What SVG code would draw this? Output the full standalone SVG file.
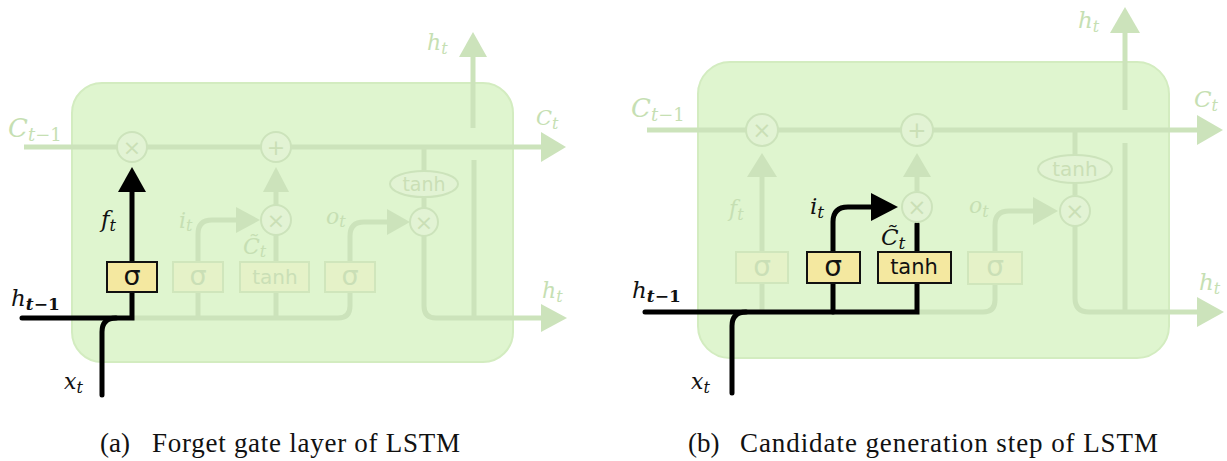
<svg xmlns="http://www.w3.org/2000/svg" width="1227" height="461" viewBox="0 0 1227 461">
<style>
.bg{fill:#dff5cf;stroke:#d3ecc0;stroke-width:2}
.fl{fill:none;stroke:#cce3bb;stroke-width:5}
.fa{fill:#cce3bb}
.bl{fill:none;stroke:#000;stroke-width:5;stroke-linecap:round}
.ba{fill:#000}
.fc{fill:#e2f3d4;stroke:#cce3bb;stroke-width:2}
.fb{fill:#e5f2c8;stroke:#d0e6bc;stroke-width:2}
.yb{fill:#f4e8a0;stroke:#111;stroke-width:2}
.op{font-family:"DejaVu Sans",sans-serif;text-anchor:middle}
.opf{fill:#cadfb6}
.opk{fill:#111}
.m{font-family:"DejaVu Serif",serif;font-style:italic}
.mf{fill:#c6dfb3}
.mk{fill:#111}
.cap{font-family:"Liberation Serif",serif;font-size:27px;fill:#111}
</style>

<!-- ============ Panel (a) ============ -->
<g id="a-cell"><rect class="bg" x="72" y="83" width="441" height="279" rx="30"/></g>
<g id="a-connectors">
  <path class="fl" d="M24,147 L541,147"/>
  <polygon class="fa" points="541,132 566,147 541,162"/>
  <path class="fl" d="M132,318 L338,318 Q350,318 350,306 L350,292"/>
  <path class="fl" d="M198,318 L198,292"/>
  <path class="fl" d="M276,318 L276,292"/>
  <path class="fl" d="M198,262 L198,234 Q198,220 212,220 L237,220"/>
  <polygon class="fa" points="236,207 260,220 236,233"/>
  <path class="fl" d="M276,262 L276,235"/>
  <path class="fl" d="M276,205 L276,190"/>
  <polygon class="fa" points="263,192 276,167 289,192"/>
  <path class="fl" d="M350,262 L350,236 Q350,222 364,222 L388,222"/>
  <polygon class="fa" points="387,209 410,222 387,235"/>
  <path class="fl" d="M424,147 L424,171"/>
  <path class="fl" d="M424,197 L424,208"/>
  <path class="fl" d="M424,236 L424,306 Q424,318 436,318 L542,318"/>
  <polygon class="fa" points="541,304 567,318 541,332"/>
  <path class="fl" d="M474,160 L474,318"/>
  <path class="fl" d="M473,128 L473,55"/>
  <polygon class="fa" points="459,57 473,32 487,57"/>
  <path class="bl" d="M132,262 L132,190"/>
  <polygon class="ba" points="118,192 132,167 146,192"/>
  <path class="bl" d="M132,292 L132,318 L22,318" stroke-linejoin="miter" stroke-linecap="butt"/>
  <path class="bl" d="M102,395 L102,332 Q102,318 116,318"/>
</g>
<g id="a-mul-f"><circle class="fc" cx="132" cy="147" r="15"/><text class="op opf" x="132" y="155" font-size="22">×</text></g>
<g id="a-add"><circle class="fc" cx="276" cy="147" r="15"/><text class="op opf" x="276" y="155" font-size="22">+</text></g>
<g id="a-mul-i"><circle class="fc" cx="276" cy="220" r="15"/><text class="op opf" x="276" y="228" font-size="22">×</text></g>
<g id="a-mul-o"><circle class="fc" cx="424" cy="222" r="14"/><text class="op opf" x="424" y="230" font-size="22">×</text></g>
<g id="a-tanh-out"><ellipse class="fc" cx="424" cy="184" rx="34" ry="13"/><text class="op opf" x="424" y="191" font-size="19">tanh</text></g>
<g id="a-sigma-f"><rect class="yb" x="107" y="262" width="50" height="30"/><text class="op opk" x="132" y="285" font-size="27">σ</text></g>
<g id="a-sigma-i"><rect class="fb" x="173" y="262" width="50" height="30"/><text class="op opf" x="198" y="285" font-size="27">σ</text></g>
<g id="a-tanh-c"><rect class="fb" x="240" y="262" width="69" height="30"/><text class="op opf" x="275" y="284" font-size="20">tanh</text></g>
<g id="a-sigma-o"><rect class="fb" x="325" y="262" width="50" height="30"/><text class="op opf" x="350" y="285" font-size="27">σ</text></g>
<g id="a-labels">
  <text class="m mf" x="8" y="137" font-size="26">C<tspan font-size="18" dy="4">t</tspan><tspan font-size="18" font-style="normal">−1</tspan></text>
  <text class="m mk" x="11" y="306" font-size="23">h<tspan font-size="17" dy="4" font-weight="bold">t</tspan><tspan font-size="17" font-style="normal" font-weight="bold">−1</tspan></text>
  <text class="m mk" x="101" y="227" font-size="23">f<tspan font-size="16" dy="4">t</tspan></text>
  <text class="m mk" x="64" y="389" font-size="22">x<tspan font-size="16" dy="4">t</tspan></text>
  <text class="m mf" x="179" y="228" font-size="22">i<tspan font-size="16" dy="3">t</tspan></text>
  <text class="m mf" x="243" y="254" font-size="22">C̃<tspan font-size="16" dy="3">t</tspan></text>
  <text class="m mf" x="326" y="224" font-size="22">o<tspan font-size="16" dy="3">t</tspan></text>
  <text class="m mf" x="427" y="50" font-size="22">h<tspan font-size="16" dy="4">t</tspan></text>
  <text class="m mf" x="536" y="125" font-size="21">C<tspan font-size="16" dy="4">t</tspan></text>
  <text class="m mf" x="542" y="298" font-size="22">h<tspan font-size="16" dy="4">t</tspan></text>
</g>
<g id="a-caption"><text class="cap" x="100" y="452">(a)</text><text class="cap" x="152" y="452" textLength="308">Forget gate layer of LSTM</text></g>

<!-- ============ Panel (b) ============ -->
<g id="b-cell"><rect class="bg" x="698" y="62" width="471" height="296" rx="32"/></g>
<g id="b-connectors">
  <path class="fl" d="M647,130 L1198,130"/>
  <polygon class="fa" points="1197,115 1223,130 1197,145"/>
  <path class="fl" d="M762,312 L762,283"/>
  <path class="fl" d="M762,252 L762,176"/>
  <polygon class="fa" points="747,177 762,153 777,177"/>
  <path class="fl" d="M917,191 L917,175"/>
  <polygon class="fa" points="903,177 917,153 931,177"/>
  <path class="fl" d="M917,312 L983,312 Q995,312 995,300 L995,284"/>
  <path class="fl" d="M995,252 L995,225 Q995,211 1009,211 L1034,211"/>
  <polygon class="fa" points="1033,197 1058,211 1033,225"/>
  <path class="fl" d="M1075,130 L1075,155"/>
  <path class="fl" d="M1075,183 L1075,195"/>
  <path class="fl" d="M1075,226 L1075,298 Q1075,312 1089,312 L1198,312"/>
  <polygon class="fa" points="1197,297 1224,312 1197,327"/>
  <path class="fl" d="M1125,143 L1125,312"/>
  <path class="fl" d="M1125,110 L1125,31"/>
  <polygon class="fa" points="1110,33 1125,7 1140,33"/>
  <path class="bl" d="M645,312 L917,312 L917,283" stroke-linejoin="miter" stroke-linecap="butt"/>
  <path class="bl" d="M833,312 L833,283"/>
  <path class="bl" d="M917,252 L917,224"/>
  <path class="bl" d="M833,252 L833,222 Q833,207 848,207 L873,207"/>
  <polygon class="ba" points="871,193 898,207 871,221"/>
  <path class="bl" d="M732,393 L732,326 Q732,312 746,312"/>
</g>
<g id="b-mul-f"><circle class="fc" cx="762" cy="130" r="16"/><text class="op opf" x="762" y="138" font-size="23">×</text></g>
<g id="b-add"><circle class="fc" cx="917" cy="130" r="16"/><text class="op opf" x="917" y="138" font-size="23">+</text></g>
<g id="b-mul-i"><circle class="fc" cx="917" cy="207" r="15"/><text class="op opf" x="917" y="215" font-size="23">×</text></g>
<g id="b-mul-o"><circle class="fc" cx="1075" cy="211" r="15"/><text class="op opf" x="1075" y="219" font-size="23">×</text></g>
<g id="b-tanh-out"><ellipse class="fc" cx="1075" cy="169" rx="37" ry="14"/><text class="op opf" x="1075" y="176" font-size="20">tanh</text></g>
<g id="b-sigma-f"><rect class="fb" x="736" y="252" width="52" height="31"/><text class="op opf" x="762" y="276" font-size="28">σ</text></g>
<g id="b-sigma-i"><rect class="yb" x="807" y="252" width="53" height="31"/><text class="op opk" x="833" y="276" font-size="28">σ</text></g>
<g id="b-tanh-c"><rect class="yb" x="878" y="252" width="73" height="31"/><text class="op opk" x="914" y="274" font-size="21">tanh</text></g>
<g id="b-sigma-o"><rect class="fb" x="968" y="252" width="54" height="32"/><text class="op opf" x="995" y="276" font-size="28">σ</text></g>
<g id="b-labels">
  <text class="m mf" x="631" y="117" font-size="26">C<tspan font-size="18" dy="4">t</tspan><tspan font-size="18" font-style="normal">−1</tspan></text>
  <text class="m mk" x="632" y="298" font-size="23">h<tspan font-size="17" dy="4" font-weight="bold">t</tspan><tspan font-size="17" font-style="normal" font-weight="bold">−1</tspan></text>
  <text class="m mf" x="729" y="216" font-size="22">f<tspan font-size="16" dy="4">t</tspan></text>
  <text class="m mk" x="810" y="214" font-size="23">i<tspan font-size="17" dy="4">t</tspan></text>
  <text class="m mk" x="881" y="245" font-size="23">C̃<tspan font-size="17" dy="4">t</tspan></text>
  <text class="m mf" x="969" y="213" font-size="22">o<tspan font-size="16" dy="4">t</tspan></text>
  <text class="m mk" x="691" y="389" font-size="22">x<tspan font-size="16" dy="4">t</tspan></text>
  <text class="m mf" x="1078" y="28" font-size="23">h<tspan font-size="16" dy="4">t</tspan></text>
  <text class="m mf" x="1194" y="107" font-size="23">C<tspan font-size="16" dy="4">t</tspan></text>
  <text class="m mf" x="1199" y="290" font-size="23">h<tspan font-size="16" dy="4">t</tspan></text>
</g>
<g id="b-caption"><text class="cap" x="688" y="452">(b)</text><text class="cap" x="740" y="452" textLength="418">Candidate generation step of LSTM</text></g>
</svg>
